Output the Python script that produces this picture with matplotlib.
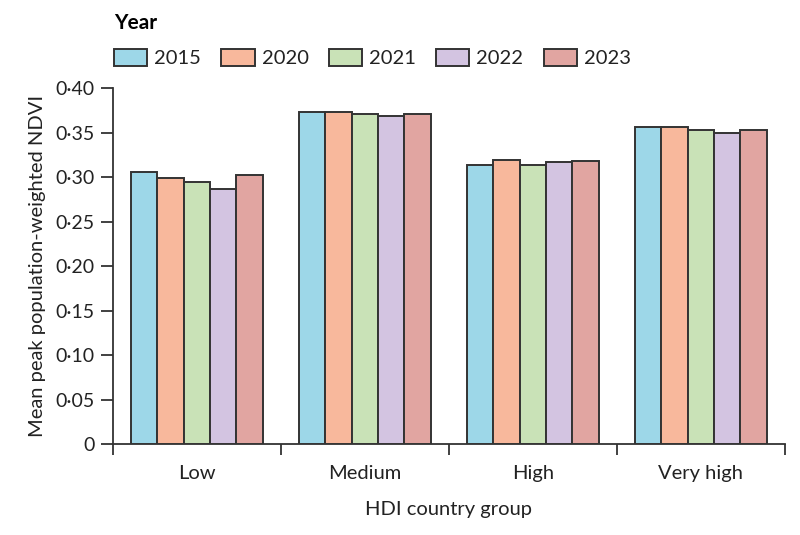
import matplotlib
matplotlib.use("Agg")
import matplotlib.pyplot as plt
from matplotlib.ticker import FuncFormatter, FixedLocator
import numpy as np

plt.rcParams['font.family'] = ['Lato', 'DejaVu Sans']

categories = ["Low", "Medium", "High", "Very high"]
years = ["2015", "2020", "2021", "2022", "2023"]
values = {
    "2015": [0.306, 0.373, 0.314, 0.357],
    "2020": [0.299, 0.373, 0.319, 0.357],
    "2021": [0.295, 0.371, 0.314, 0.353],
    "2022": [0.287, 0.369, 0.317, 0.350],
    "2023": [0.303, 0.371, 0.318, 0.353],
}
colors = ["#9dd7e8", "#f8b89c", "#c9e2b7", "#d3c4e1", "#e1a5a1"]

fig = plt.figure(figsize=(8, 5.35), dpi=100)
ax = fig.add_axes([0.141, 0.170, 0.840, 0.665])

n = len(years)
bw = 0.157
centers = np.arange(len(categories)) + 0.5
for i, (yr, c) in enumerate(zip(years, colors)):
    xs = centers + (i - (n - 1) / 2) * bw
    ax.bar(xs, values[yr], width=bw, color=c, edgecolor="#333333",
           linewidth=1.4, label=yr, zorder=3)

ax.set_xlim(0, len(categories))
ax.set_ylim(0, 0.40)
ax.set_yticks(np.arange(0, 0.401, 0.05))
ax.yaxis.set_major_formatter(FuncFormatter(
    lambda v, p: "0" if abs(v) < 1e-9 else f"{v:.2f}".replace(".", "·")))

ax.xaxis.set_major_locator(FixedLocator(np.arange(0, len(categories) + 1)))
ax.xaxis.set_major_formatter(FuncFormatter(lambda v, p: ""))
ax.xaxis.set_minor_locator(FixedLocator(centers))
ax.set_xticklabels(categories, minor=True)
ax.tick_params(axis="x", which="minor", length=0, pad=15, labelsize=14.5, colors="#222222")
ax.tick_params(axis="x", which="major", length=8, width=1.3, color="#333333")
ax.tick_params(axis="y", length=9, width=1.3, color="#333333", labelsize=14,
               labelcolor="#222222", pad=4)

for s in ["top", "right"]:
    ax.spines[s].set_visible(False)
for s in ["left", "bottom"]:
    ax.spines[s].set_linewidth(1.3)
    ax.spines[s].set_color("#333333")

ax.set_xlabel("HDI country group", fontsize=14.5, color="#222222", labelpad=14)
ax.set_ylabel("Mean peak population-weighted NDVI", fontsize=14.5, color="#222222", labelpad=7)

leg = fig.legend(loc="upper left", bbox_to_anchor=(0.120, 1.010), ncol=5,
                 frameon=False, fontsize=14.5, title="Year",
                 title_fontproperties={"weight": "bold", "size": 15},
                 alignment="left", handlelength=1.65, handleheight=0.9,
                 columnspacing=1.0, handletextpad=0.35, labelspacing=0.8)
for t in leg.get_texts():
    t.set_color("#222222")

fig.savefig("out.png", dpi=100)
